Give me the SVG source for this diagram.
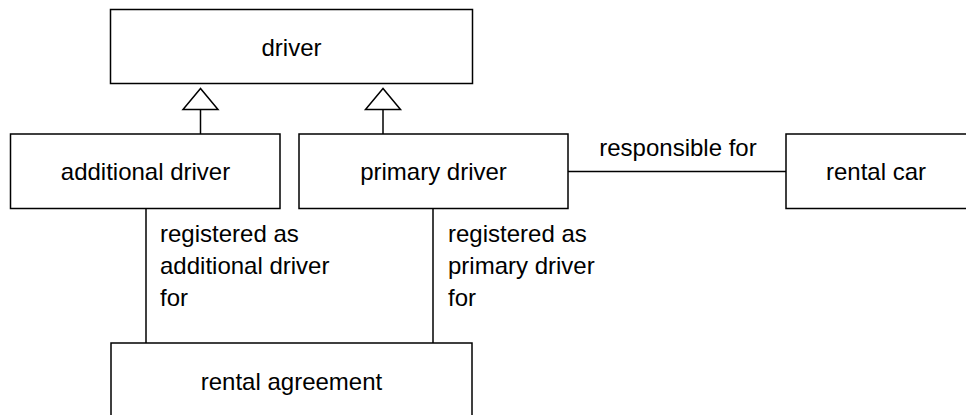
<svg xmlns="http://www.w3.org/2000/svg" width="966" height="415" viewBox="0 0 966 415">
<style>
.box{fill:#fff;stroke:#000;stroke-width:1.5}
.ln{fill:none;stroke:#000;stroke-width:1.5}
.tri{fill:#fff;stroke:#000;stroke-width:1.5;stroke-linejoin:miter}
text{font-family:"Liberation Sans",Arial,sans-serif;font-size:24px;fill:#000}
.c{text-anchor:middle}
</style>
<rect width="966" height="415" fill="#fff"/>
<g id="connectors">
  <line class="ln" x1="200.5" y1="109.5" x2="200.5" y2="134"/>
  <polygon class="tri" points="200.5,88.5 183,109.5 218,109.5"/>
  <line class="ln" x1="383" y1="109.5" x2="383" y2="134"/>
  <polygon class="tri" points="383,88.5 365.5,109.5 400.5,109.5"/>
  <line class="ln" x1="568" y1="171.5" x2="786" y2="171.5"/>
  <text class="c" x="678" y="156">responsible for</text>
  <line class="ln" x1="146" y1="208" x2="146" y2="343"/>
  <text x="160" y="242">registered as</text>
  <text x="160" y="274">additional driver</text>
  <text x="160" y="306">for</text>
  <line class="ln" x1="433" y1="208" x2="433" y2="343"/>
  <text x="448" y="242">registered as</text>
  <text x="448" y="274">primary driver</text>
  <text x="448" y="306">for</text>
</g>
<g id="driver">
  <rect class="box" x="110.5" y="9.5" width="362" height="74"/>
  <text class="c" x="291.5" y="56">driver</text>
</g>
<g id="additional-driver">
  <rect class="box" x="10.5" y="134" width="269.5" height="74.5"/>
  <text class="c" x="145.5" y="180">additional driver</text>
</g>
<g id="primary-driver">
  <rect class="box" x="299" y="134" width="269" height="74.5"/>
  <text class="c" x="433.5" y="180">primary driver</text>
</g>
<g id="rental-car">
  <rect class="box" x="786" y="134" width="200" height="74.5"/>
  <text class="c" x="876" y="180">rental car</text>
</g>
<g id="rental-agreement">
  <rect class="box" x="111" y="343" width="361" height="100"/>
  <text class="c" x="291.5" y="390">rental agreement</text>
</g>
</svg>
